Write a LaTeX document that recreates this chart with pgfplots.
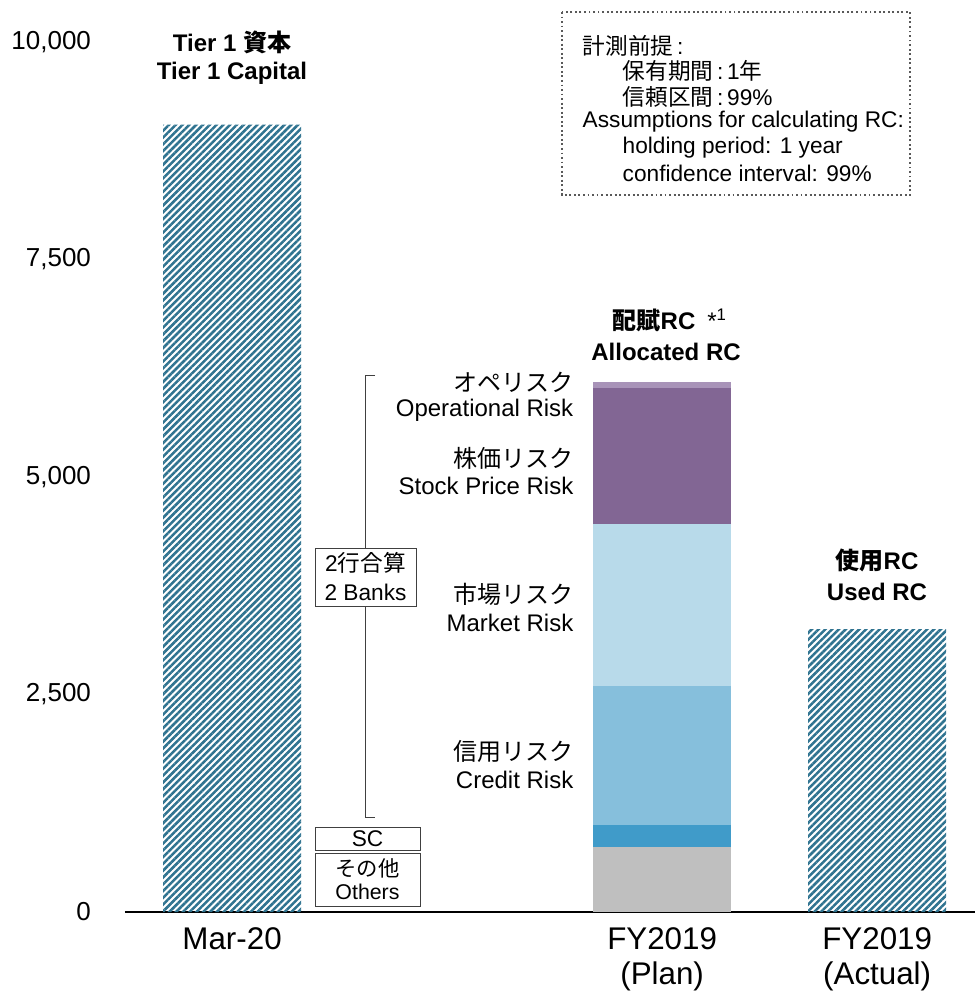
\documentclass[border=0pt]{standalone}
\usepackage{fontspec}
\setmainfont{Liberation Sans}
\newfontfamily\cjk{Noto Sans CJK JP}
\usepackage{pgfplots}
\pgfplotsset{compat=1.18}
\usetikzlibrary{patterns.meta}
\definecolor{hatch}{HTML}{2F7390}
\definecolor{cgray}{HTML}{BFBFBF}
\definecolor{csc}{HTML}{409BC9}
\definecolor{ccredit}{HTML}{86BFDC}
\definecolor{cmarket}{HTML}{B8DAEA}
\definecolor{cstock}{HTML}{826694}
\definecolor{cop}{HTML}{A893B8}
\newcommand{\fs}[1]{\fontsize{#1}{#1}\selectfont}
\begin{document}
\begin{tikzpicture}
\useasboundingbox (0,0) rectangle (731.25pt,744.75pt);
\begin{axis}[
  at={(93.75pt,60.75pt)}, anchor=south west,
  scale only axis, width=637.5pt, height=652.5pt,
  ybar stacked, bar width=103.5pt,
  xmin=-0.498, xmax=3.455, ymin=0, ymax=10000,
  axis x line*=bottom, axis y line*=left,
  y axis line style={draw=none},
  x axis line style={line width=1.5pt},
  major tick length=0pt,
  xtick={0,2,3}, xticklabels={Mar-20,FY2019\\(Plan),FY2019\\(Actual)},
  xticklabel style={align=center, font=\fontsize{23.5}{26.5}\selectfont, yshift=-8pt},
  ytick={0,2500,5000,7500,10000},
  scaled y ticks=false,
  yticklabel style={font=\fs{19.5}, xshift=-22pt,
    /pgf/number format/fixed, /pgf/number format/1000 sep={,}},
  /pgf/number format/assume math mode=true,
  clip=false,
]
\addplot[draw=none, pattern={Lines[angle=45, distance=3.6pt, line width=1.9pt]}, pattern color=hatch] coordinates {(0,9050) (2,0) (3,3250)};
\addplot[draw=none, fill=cgray] coordinates {(0,0) (2,747) (3,0)};
\addplot[draw=none, fill=csc] coordinates {(0,0) (2,253) (3,0)};
\addplot[draw=none, fill=ccredit] coordinates {(0,0) (2,1598) (3,0)};
\addplot[draw=none, fill=cmarket] coordinates {(0,0) (2,1862) (3,0)};
\addplot[draw=none, fill=cstock] coordinates {(0,0) (2,1563) (3,0)};
\addplot[draw=none, fill=cop] coordinates {(0,0) (2,69) (3,0)};
\end{axis}
\begin{scope}[x=0.75pt,y=0.75pt]
% headings
\node[font=\fs{18}\bfseries] at (232,{993-42}) {Tier 1 {\cjk\bfseries 資本}};
\node[font=\fs{18}\bfseries] at (232,{993-73}) {Tier 1 Capital};
\node[font=\fs{18}\bfseries, anchor=west] at (608,{993-320}) {{\cjk\bfseries 配賦}RC\enspace{\mdseries *\textsuperscript{1}}};
\node[font=\fs{18}\bfseries] at (666,{993-352}) {Allocated RC};
\node[font=\fs{18}\bfseries] at (877,{993-560}) {{\cjk\bfseries 使用}RC};
\node[font=\fs{18}\bfseries] at (877,{993-592}) {Used RC};
% assumptions box
\draw[draw=black!65, line width=1.4pt, dotted] (562,{993-12}) rectangle (910,{993-195});
\node[font=\fs{17}, anchor=west] at (578,{993-46}) {{\cjk 計測前提}\,:};
\node[font=\fs{17}, anchor=west] at (618,{993-71}) {{\cjk 保有期間}\,:\,1{\cjk 年}};
\node[font=\fs{17}, anchor=west] at (618,{993-97}) {{\cjk 信頼区間}\,:\,99\%};
\node[font=\fs{17}, anchor=west] at (578,{993-122}) {Assumptions for calculating RC:};
\node[font=\fs{17}, anchor=west] at (618,{993-148}) {holding period: 1 year};
\node[font=\fs{17}, anchor=west] at (618,{993-173}) {confidence interval: 99\%};
% risk labels
\node[font=\fs{18}, anchor=east] at (578,{993-382}) {\cjk オペリスク};
\node[font=\fs{18}, anchor=east] at (578,{993-410}) {Operational Risk};
\node[font=\fs{18}, anchor=east] at (578,{993-458}) {\cjk 株価リスク};
\node[font=\fs{18}, anchor=east] at (578,{993-486}) {Stock Price Risk};
\node[font=\fs{18}, anchor=east] at (578,{993-594}) {\cjk 市場リスク};
\node[font=\fs{18}, anchor=east] at (578,{993-623}) {Market Risk};
\node[font=\fs{18}, anchor=east] at (578,{993-751}) {\cjk 信用リスク};
\node[font=\fs{18}, anchor=east] at (578,{993-780}) {Credit Risk};
% bracket
\draw[line width=0.7pt, draw=black!75] (375,{993-375}) -- (365,{993-375}) -- (365,{993-817}) -- (375,{993-817});
\draw[fill=white, line width=0.7pt, draw=black!75] (315,{993-548}) rectangle (416,{993-606});
\node[font=\fs{17}] at (365.5,{993-563}) {2{\cjk 行合算}};
\node[font=\fs{17}] at (365.5,{993-592}) {2 Banks};
\draw[fill=white, line width=0.7pt, draw=black!75] (315,{993-827}) rectangle (420,{993-850});
\node[font=\fs{17}] at (367.5,{993-838.5}) {SC};
\draw[fill=white, line width=0.7pt, draw=black!75] (315,{993-853}) rectangle (420,{993-906});
\node[font=\fs{16}] at (367.5,{993-868}) {\cjk その他};
\node[font=\fs{16}] at (367.5,{993-892}) {Others};
\end{scope}
\end{tikzpicture}
\end{document}
